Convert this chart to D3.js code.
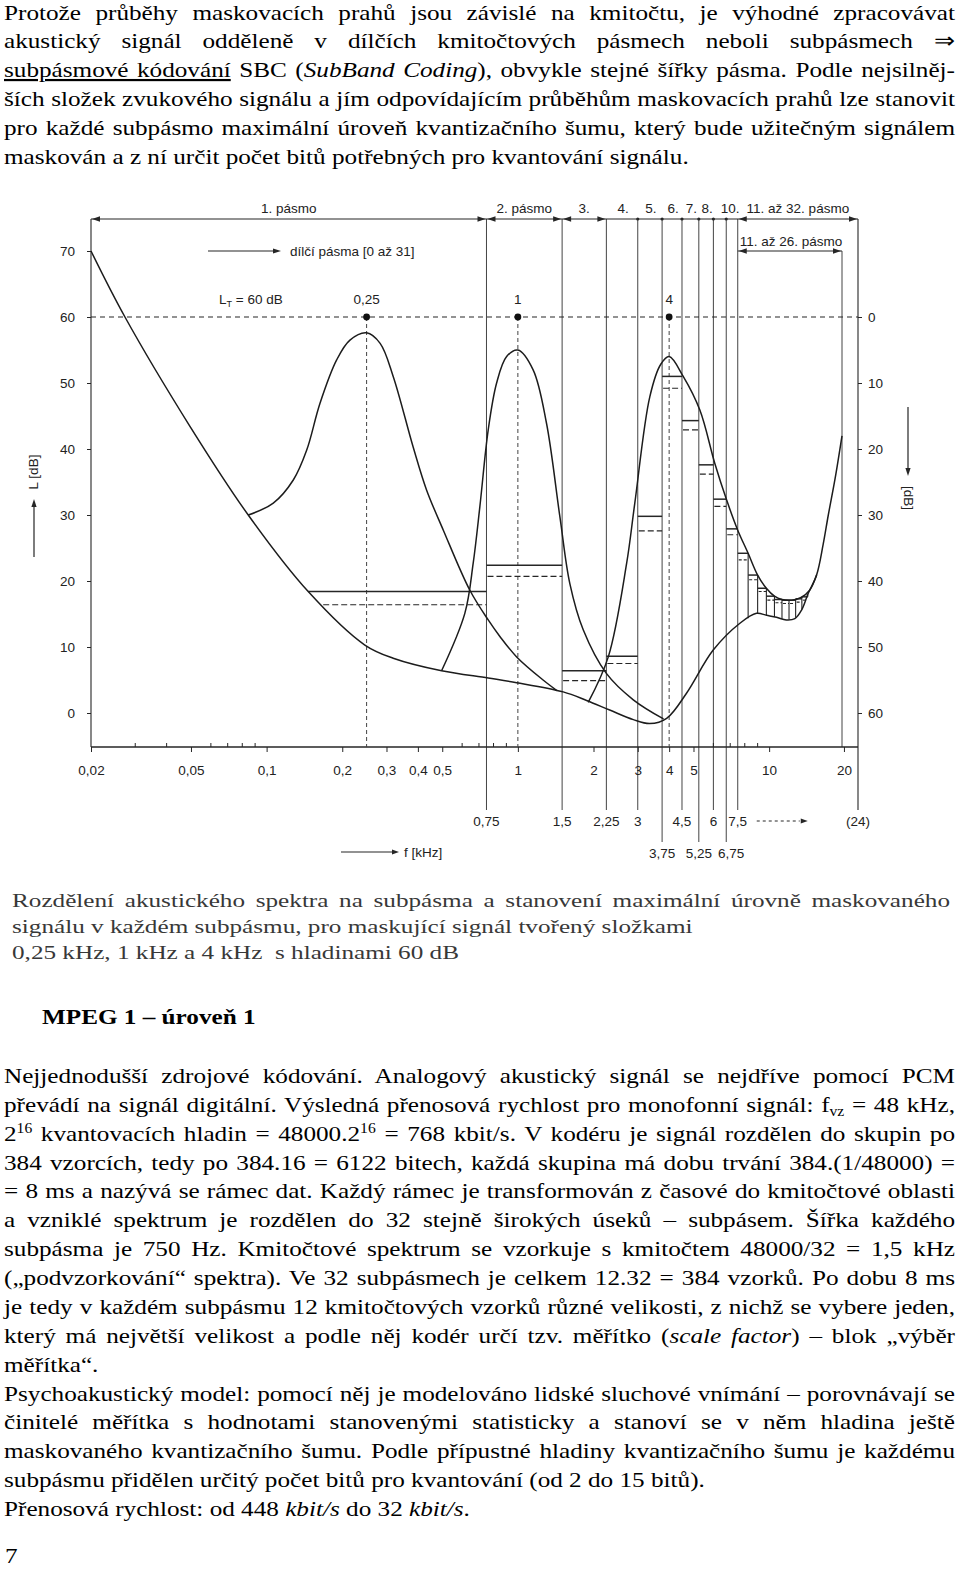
<!DOCTYPE html>
<html><head><meta charset="utf-8">
<script src="https://cdn.jsdelivr.net/npm/d3@7"></script>
<style>
html,body{margin:0;padding:0;background:#fff;}
svg{display:block;}
</style></head>
<body>
<svg id="page" width="960" height="1569"></svg>
<script>
// ================= DATA =================
// curves: [frequency kHz, level dB]
const thresholdCurve = [[0.02,70],[0.0273,60],[0.0496,43.4],[0.0845,30],[0.1464,18.4],[0.246,10.3],[0.319,8.3],[0.497,6.4],[0.762,5.3],[0.989,4.6],[1.515,3.2],[1.877,1.9],[2.32,0.45],[2.88,-1.0],[3.35,-1.6],[3.91,-0.8],[4.69,3.0],[5.98,9.5],[7.65,13.6],[8.91,15.1],[9.77,14.8],[10.7,14.5],[11.7,14.1],[12.66,14.3],[13.46,15.6],[14.3,18.1],[15.45,20.9],[16.4,25.5],[17.2,30],[18.3,35.5],[19.5,42]];
const mask025Curve = [[0.0845,30],[0.1063,31.8],[0.1277,35.3],[0.1443,39.8],[0.163,46.9],[0.19,53.5],[0.2146,56.5],[0.25,57.6],[0.283,56],[0.319,51],[0.383,40.3],[0.433,33.8],[0.505,27.7],[0.644,18.6],[0.762,14.1],[0.848,11.6],[0.989,8.5],[1.26,5.0],[1.43,3.4]];
const mask1Curve = [[0.497,6.4],[0.615,15.1],[0.664,22.7],[0.706,31.3],[0.762,42.9],[0.823,50],[0.902,54],[1.0,55],[1.15,52],[1.30,43.9],[1.47,29.7],[1.61,19.6],[1.82,12.6],[2.25,6.0],[2.88,2.0],[3.8,-0.9]];
const mask4Curve = [[1.905,1.6],[2.29,8.5],[2.71,22.7],[2.92,31.8],[3.35,47.9],[3.7,52.8],[4.0,54],[4.55,51],[5.30,45.9],[6.08,37.8],[6.77,32.3],[7.5,27.7],[8.25,24.2],[9.0,20.9],[9.75,18.9],[10.5,17.7],[11.25,17.2],[12.3,17.1],[13.4,17.5],[14.5,18.6],[15.45,20.9]];
const toneFreqs = [0.25, 1, 4];
const toneLabels = ["0,25", "1", "4"];
const toneLevel = 60;
// subband edges (kHz) and per-band masking level (solid) and noise level (dashed)
const bandEdges = [0.02,0.75,1.5,2.25,3,3.75,4.5,5.25,6,6.75,7.5,8.25,9,9.75,10.5,11.25,12,12.75,13.5,14.25];
const maskLevel  = [18.4,22.4,6.4,8.6,29.8,51,44.3,37.6,32.4,27.9,24.2,20.9,18.9,17.7,17.2,17.1,17.1,17.3,17.6];
const noiseLevel = [16.4,20.7,4.9,7.5,27.6,49.2,42.9,36.2,31.3,27.0,23.2,20.2,18.4,17.1,16.7,16.6,16.6,16.8,17.1];
const band26End = 19.5, spectrumEnd = 24;
const leftTicks = [0,10,20,30,40,50,60,70];
const rightTicks = [0,10,20,30,40,50,60];
const xTickVals = [0.02,0.05,0.1,0.2,0.3,0.4,0.5,1,2,3,4,5,10,20];
const xTickLabels = ["0,02","0,05","0,1","0,2","0,3","0,4","0,5","1","2","3","4","5","10","20"];
const edgeRow1Vals = [0.75,1.5,2.25,3,4.5,6,7.5];
const edgeRow1Labels = ["0,75","1,5","2,25","3","4,5","6","7,5"];
const edgeRow2Vals = [3.75,5.25,6.75];
const edgeRow2Labels = ["3,75","5,25","6,75"];
const arrowBands = [[0.02,0.75,"1. pásmo"],[0.75,1.5,"2. pásmo"],[1.5,2.25,"3."],[7.5,24,"11. až 32. pásmo"]];
const numberedBands = [[2.25,3,"4."],[3,3.75,"5."],[3.75,4.5,"6."],[4.5,5.25,"7."],[5.25,6,"8."],[6.4,7.5,"10."]];

const para1 = [
 "Protože průběhy maskovacích prahů jsou závislé na kmitočtu, je výhodné zpracovávat",
 "akustický signál odděleně v dílčích kmitočtových pásmech neboli subpásmech ⇒",
 "<u>subpásmové kódování</u> SBC (<i>SubBand Coding</i>), obvykle stejné šířky pásma. Podle nejsilněj-",
 "ších složek zvukového signálu a jím odpovídajícím průběhům maskovacích prahů lze stanovit",
 "pro každé subpásmo maximální úroveň kvantizačního šumu, který bude užitečným signálem",
 "maskován a z ní určit počet bitů potřebných pro kvantování signálu."
];
const para1Justify = [1,1,1,1,1,0];
const captionLines = [
 "Rozdělení akustického spektra na subpásma a stanovení maximální úrovně maskovaného",
 "signálu v každém subpásmu, pro maskující signál tvořený složkami",
 "0,25 kHz, 1 kHz a 4 kHz  s hladinami 60 dB"
];
const captionJustify = [1,0,0];
const heading = "MPEG 1 – úroveň 1";
const para2 = [
 "Nejjednodušší zdrojové kódování. Analogový akustický signál se nejdříve pomocí PCM",
 "převádí na signál digitální. Výsledná přenosová rychlost pro monofonní signál: f<sub>vz</sub> = 48 kHz,",
 "2<sup>16</sup> kvantovacích hladin = 48000.2<sup>16</sup> = 768 kbit/s. V kodéru je signál rozdělen do skupin po",
 "384 vzorcích, tedy po 384.16 = 6122 bitech, každá skupina má dobu trvání 384.(1/48000) =",
 "= 8 ms a nazývá se rámec dat. Každý rámec je transformován z časové do kmitočtové oblasti",
 "a vzniklé spektrum je rozdělen do 32 stejně širokých úseků – subpásem. Šířka každého",
 "subpásma je 750 Hz. Kmitočtové spektrum se vzorkuje s kmitočtem 48000/32 = 1,5 kHz",
 "(„podvzorkování“ spektra). Ve 32 subpásmech je celkem 12.32 = 384 vzorků. Po dobu 8 ms",
 "je tedy v každém subpásmu 12 kmitočtových vzorků různé velikosti, z nichž se vybere jeden,",
 "který má největší velikost a podle něj kodér určí tzv. měřítko (<i>scale factor</i>) – blok „výběr",
 "měřítka“.",
 "Psychoakustický model: pomocí něj je modelováno lidské sluchové vnímání – porovnávají se",
 "činitelé měřítka s hodnotami stanovenými statisticky a stanoví se v něm hladina ještě",
 "maskovaného kvantizačního šumu. Podle přípustné hladiny kvantizačního šumu je každému",
 "subpásmu přidělen určitý počet bitů pro kvantování (od 2 do 15 bitů).",
 "Přenosová rychlost: od 448 <i>kbit/s</i> do 32 <i>kbit/s</i>."
];
const para2Justify = [1,1,1,1,1,1,1,1,1,1,0,1,1,1,0,0];
const pageNumber = "7";

// ================= LAYOUT =================
const svg = d3.select("#page");
const SERIF = "'Liberation Serif','Times New Roman',serif";
const SANS = "'Liberation Sans',Arial,sans-serif";
const INK = "#262626", THIN = "#444";
const CH_FS = 13.5;
const F = {left: 91, right: 858, top: 219, row2: 251, bottom: 747};

const x = d3.scaleLog().domain([0.02, band26End, spectrumEnd]).range([91, 842, 858]);
const y = d3.scaleLinear().domain([0, 60]).range([713, 317]);
const yR = d3.scaleLinear().domain([0, 60]).range([317, 713]);

// ---------- rich text helpers ----------
function parseRich(str){
  const parts = str.split(/(<\/?(?:i|u|sub|sup)>)/);
  const st = {i:false,u:false,sub:false,sup:false}; const out = [];
  for (const p of parts){
    if (!p) continue;
    const m = p.match(/^<(\/?)(i|u|sub|sup)>$/);
    if (m){ st[m[2]] = !m[1]; continue; }
    out.push(Object.assign({t:p}, st));
  }
  return out;
}
function fillText(t, str, fs){
  let shift = 0;
  for (const seg of parseRich(str)){
    const ts = t.append("tspan").text(seg.t);
    if (seg.i) ts.attr("font-style","italic");
    if (seg.u) ts.attr("text-decoration","underline");
    const want = seg.sub ? 4 : seg.sup ? -8 : 0;
    if (want !== shift){ ts.attr("dy", want - shift); shift = want; }
    if (seg.sub || seg.sup) ts.attr("font-size", fs*0.62);
  }
  return parseRich(str).map(s=>s.t).join("");
}
function newText(g, fs, weight){
  return g.append("text").attr("font-family", SERIF).attr("font-size", fs)
    .attr("font-weight", weight||"normal").attr("xml:space","preserve").style("white-space","pre");
}
function measure(str, fs, weight){
  const t = newText(svg, fs, weight); fillText(t, str, fs);
  const w = t.node().getComputedTextLength(); t.remove(); return w;
}
function textBlock(lines, o){
  const g = svg.append("g").attr("fill", o.fill || "#000");
  lines.forEach((ln, k) => {
    const t = newText(g, o.fs, o.weight)
      .attr("transform", `translate(${o.x},${o.y0 + k*o.pitch}) scale(${o.sx},1)`);
    const plain = fillText(t, ln, o.fs);
    if (o.justify && o.justify[k]){
      const w = t.node().getComputedTextLength();
      const n = (plain.match(/ /g) || []).length;
      if (n > 0) t.style("word-spacing", ((o.width/o.sx - w)/n) + "px");
    }
  });
}

// horizontal stretch of the scanned page text, calibrated on known line lengths
const sxBody = 685 / measure(para1[5], 22);
const sxCap = 681 / measure(captionLines[1], 19.5);

textBlock(para1, {x:4, y0:19.5, pitch:28.8, fs:22, sx:sxBody, width:951, justify:para1Justify});
textBlock(captionLines, {x:12, y0:907, pitch:26, fs:19.5, sx:sxCap, width:938, justify:captionJustify, fill:"#383838"});
textBlock([heading], {x:42, y0:1024, pitch:0, fs:22, sx:sxBody, weight:"bold"});
textBlock(para2, {x:4, y0:1083, pitch:28.87, fs:22, sx:sxBody, width:951, justify:para2Justify});
textBlock([pageNumber], {x:5, y0:1563, pitch:0, fs:22, sx:sxBody});

// ================= CHART =================
const chart = svg.append("g").attr("font-family", SANS).attr("font-size", CH_FS);

function arrow(g, xt, yt, dir, len=8, hw=2.8){
  let d;
  if (dir === "r") d = `M${xt},${yt}L${xt-len},${yt-hw}L${xt-len},${yt+hw}Z`;
  else if (dir === "l") d = `M${xt},${yt}L${xt+len},${yt-hw}L${xt+len},${yt+hw}Z`;
  else if (dir === "u") d = `M${xt},${yt}L${xt-hw},${yt+len}L${xt+hw},${yt+len}Z`;
  else d = `M${xt},${yt}L${xt-hw},${yt-len}L${xt+hw},${yt-len}Z`;
  g.append("path").attr("d", d).attr("fill", INK);
}
function thresholdAt(f){
  const c = thresholdCurve; const lf = Math.log10(f);
  for (let i = 0; i < c.length-1; i++){
    const a = Math.log10(c[i][0]), b = Math.log10(c[i+1][0]);
    if (lf >= a && lf <= b) return c[i][1] + (c[i+1][1]-c[i][1])*(lf-a)/(b-a);
  }
  return lf < Math.log10(c[0][0]) ? c[0][1] : c[c.length-1][1];
}
function crossing(level, lo, hi){
  // first frequency in [lo,hi] where the threshold curve falls to `level`
  let a = Math.log10(lo), b = Math.log10(hi);
  for (let k = 0; k < 40; k++){
    const m = (a+b)/2;
    if (thresholdAt(10**m) > level) a = m; else b = m;
  }
  return 10**((a+b)/2);
}
// place labels centred on their values, nudging right to avoid overlaps
function labelRow(vals, labels, yBase){
  let prevRight = -Infinity;
  vals.forEach((v, i) => {
    const t = chart.append("text").attr("y", yBase).attr("fill", "#222").text(labels[i]);
    const w = t.node().getComputedTextLength();
    let left = x(v) - w/2;
    if (left < prevRight + 6) left = prevRight + 6;
    t.attr("x", left);
    prevRight = left + w;
  });
}

// band boundary lines
const fullEdges = bandEdges.slice(1, 11);
const longEdges = new Set(edgeRow2Vals);
chart.append("g").selectAll("line").data(fullEdges).join("line")
  .attr("x1", d=>x(d)).attr("x2", d=>x(d)).attr("y1", F.top)
  .attr("y2", d=> longEdges.has(d) ? 842 : 810)
  .attr("stroke", THIN).attr("stroke-width", 1);
chart.append("line").attr("x1", x(band26End)).attr("x2", x(band26End)).attr("y1", F.row2).attr("y2", F.bottom)
  .attr("stroke", THIN).attr("stroke-width", 1);
// frame
chart.append("line").attr("x1", x(0.02)).attr("x2", x(0.02)).attr("y1", F.top).attr("y2", F.bottom).attr("stroke", INK).attr("stroke-width", 1.1);
chart.append("line").attr("x1", x(spectrumEnd)).attr("x2", x(spectrumEnd)).attr("y1", F.top).attr("y2", 810).attr("stroke", INK).attr("stroke-width", 1.1);
chart.append("line").attr("x1", x(0.02)).attr("x2", x(spectrumEnd)).attr("y1", F.bottom).attr("y2", F.bottom).attr("stroke", INK).attr("stroke-width", 1.3);

// axes
const gL = chart.append("g").attr("transform", `translate(${F.left},0)`)
  .call(d3.axisLeft(y).tickValues(leftTicks).tickSize(4).tickPadding(12));
const gR = chart.append("g").attr("transform", `translate(${F.right},0)`)
  .call(d3.axisRight(yR).tickValues(rightTicks).tickSize(4).tickPadding(6));
const gB = chart.append("g").attr("transform", `translate(0,${F.bottom})`)
  .call(d3.axisBottom(x).tickValues(xTickVals).tickFormat((d,i)=>xTickLabels[i]).tickSize(5).tickPadding(13));
[gL, gR, gB].forEach(g => {
  g.select(".domain").remove();
  g.attr("font-family", SANS).attr("font-size", CH_FS);
  g.selectAll("text").attr("fill", "#222");
  g.selectAll("line").attr("stroke", INK);
});
// minor log ticks
const minorVals = [];
[0.01, 0.1, 1, 10].forEach(dec => { for (let k = 2; k <= 9; k++){ const v = +(k*dec).toPrecision(3); if (v >= 0.02 && v <= 20 && !xTickVals.includes(v)) minorVals.push(v); } });
chart.append("g").selectAll("line").data(minorVals).join("line")
  .attr("x1", d=>x(d)).attr("x2", d=>x(d)).attr("y1", F.bottom).attr("y2", F.bottom-4)
  .attr("stroke", INK).attr("stroke-width", 1);

// edge frequency labels below axis
labelRow(edgeRow1Vals, edgeRow1Labels, 826);
labelRow(edgeRow2Vals, edgeRow2Labels, 858);
chart.append("text").attr("x", x(spectrumEnd)).attr("y", 826).attr("text-anchor","middle").attr("fill","#222").text("(24)");
chart.append("line").attr("x1", x(7.5)+19).attr("x2", x(7.5)+62).attr("y1", 821).attr("y2", 821)
  .attr("stroke", INK).attr("stroke-dasharray","3,3");
arrow(chart, x(7.5)+70, 821, "r", 7, 2.6);
chart.append("line").attr("x1", 341).attr("x2", 392).attr("y1", 852).attr("y2", 852).attr("stroke", INK).attr("stroke-width", 1.2);
arrow(chart, 399, 852, "r", 7, 2.6);
chart.append("text").attr("x", 404).attr("y", 857).attr("fill","#222").text("f [kHz]");

// axis titles
chart.append("text").attr("transform","translate(38,472) rotate(-90)").attr("text-anchor","middle")
  .attr("fill","#222").text("L [dB]");
chart.append("line").attr("x1", 34).attr("x2", 34).attr("y1", 557).attr("y2", 506).attr("stroke", INK).attr("stroke-width", 1.2);
arrow(chart, 34, 499, "u", 8, 2.6);
chart.append("text").attr("transform","translate(904,498) rotate(90)").attr("text-anchor","middle")
  .attr("fill","#222").text("[dB]");
chart.append("line").attr("x1", 908).attr("x2", 908).attr("y1", 407).attr("y2", 468).attr("stroke", INK).attr("stroke-width", 1.2);
arrow(chart, 908, 476, "d", 8, 2.6);

// top band annotation row
chart.append("line").attr("x1", x(0.02)).attr("x2", x(spectrumEnd)).attr("y1", F.top).attr("y2", F.top)
  .attr("stroke", INK).attr("stroke-width", 1.1);
arrowBands.forEach(([a,b,label]) => {
  arrow(chart, x(a)+1, F.top, "l"); arrow(chart, x(b)-1, F.top, "r");
  chart.append("text").attr("x", (x(a)+x(b))/2).attr("y", F.top-6).attr("text-anchor","middle").attr("fill","#222").text(label);
});
numberedBands.forEach(([a,b,label]) => {
  chart.append("text").attr("x", (x(a)+x(b))/2 + 1).attr("y", F.top-6).attr("text-anchor","middle").attr("fill","#222").text(label);
});
chart.append("g").selectAll("circle").data(bandEdges.slice(4,10)).join("circle")
  .attr("cx", d=>x(d)).attr("cy", F.top).attr("r", 1.6).attr("fill", INK);
// second row: bands 11..26
chart.append("line").attr("x1", x(7.5)).attr("x2", x(band26End)).attr("y1", F.row2).attr("y2", F.row2).attr("stroke", INK).attr("stroke-width", 1.1);
arrow(chart, x(7.5)+1, F.row2, "l"); arrow(chart, x(band26End)-1, F.row2, "r");
chart.append("text").attr("x", x(7.5)+2).attr("y", F.row2-5).attr("fill","#222").text("11. až 26. pásmo");
// sub-band direction note
chart.append("line").attr("x1", 208).attr("x2", 273).attr("y1", F.row2).attr("y2", F.row2).attr("stroke", INK).attr("stroke-width", 1.2);
arrow(chart, 281, F.row2, "r", 8, 2.6);
chart.append("text").attr("x", 290).attr("y", F.row2+5).attr("fill","#222").text("dílčí pásma [0 až 31]");
// L_T label
const lt = chart.append("text").attr("x", 219).attr("y", 304).attr("fill","#222");
lt.append("tspan").text("L");
lt.append("tspan").attr("dy", 3).attr("font-size", 9).text("T");
lt.append("tspan").attr("dy", -3).text(" = 60 dB");

// 60 dB tone level line, tone markers
chart.append("line").attr("x1", x(0.02)).attr("x2", x(spectrumEnd)).attr("y1", y(toneLevel)).attr("y2", y(toneLevel))
  .attr("stroke", INK).attr("stroke-width", 1.1).attr("stroke-dasharray","5,4");
chart.append("g").selectAll("line").data(toneFreqs).join("line")
  .attr("x1", d=>x(d)).attr("x2", d=>x(d)).attr("y1", y(toneLevel)).attr("y2", F.bottom)
  .attr("stroke", THIN).attr("stroke-width", 1).attr("stroke-dasharray","4,3");
chart.append("g").selectAll("circle").data(toneFreqs).join("circle")
  .attr("cx", d=>x(d)).attr("cy", y(toneLevel)).attr("r", 3.4).attr("fill", "#111");
chart.append("g").selectAll("text").data(toneFreqs).join("text")
  .attr("x", d=>x(d)).attr("y", 304).attr("text-anchor","middle").attr("fill","#222")
  .text((d,i)=>toneLabels[i]);

// band steps: masking level (solid) and noise level (dashed)
const steps = chart.append("g");
maskLevel.forEach((lev, k) => {
  const a = bandEdges[k], b = bandEdges[k+1];
  const s1 = thresholdAt(a) > lev ? crossing(lev, a, b) : a;
  steps.append("line").attr("x1", x(s1)).attr("x2", x(b)).attr("y1", y(lev)).attr("y2", y(lev))
    .attr("stroke", INK).attr("stroke-width", 1.5);
  const nl = noiseLevel[k];
  const s2 = thresholdAt(a) > nl ? crossing(nl, a, b) : a;
  steps.append("line").attr("x1", x(s2)+1).attr("x2", x(b)).attr("y1", y(nl)).attr("y2", y(nl))
    .attr("stroke", INK).attr("stroke-width", 1.1).attr("stroke-dasharray", k >= 10 ? "3,2" : "6,3");
});
// hatch: narrow bands 11.. drawn down to the threshold curve
for (let j = 11; j < bandEdges.length; j++){
  const f = bandEdges[j];
  const top = Math.max(maskLevel[j-1], j < maskLevel.length ? maskLevel[j] : -99);
  steps.append("line").attr("x1", x(f)).attr("x2", x(f)).attr("y1", y(top)).attr("y2", y(thresholdAt(f)))
    .attr("stroke", INK).attr("stroke-width", 1.1);
}

// curves
const line = d3.line().x(d=>x(d[0])).y(d=>y(d[1])).curve(d3.curveCatmullRom.alpha(0.5));
[thresholdCurve, mask025Curve, mask1Curve, mask4Curve].forEach(c => {
  chart.append("path").attr("d", line(c)).attr("fill","none").attr("stroke", "#1c1c1c").attr("stroke-width", 1.5);
});
</script>
</body></html>
